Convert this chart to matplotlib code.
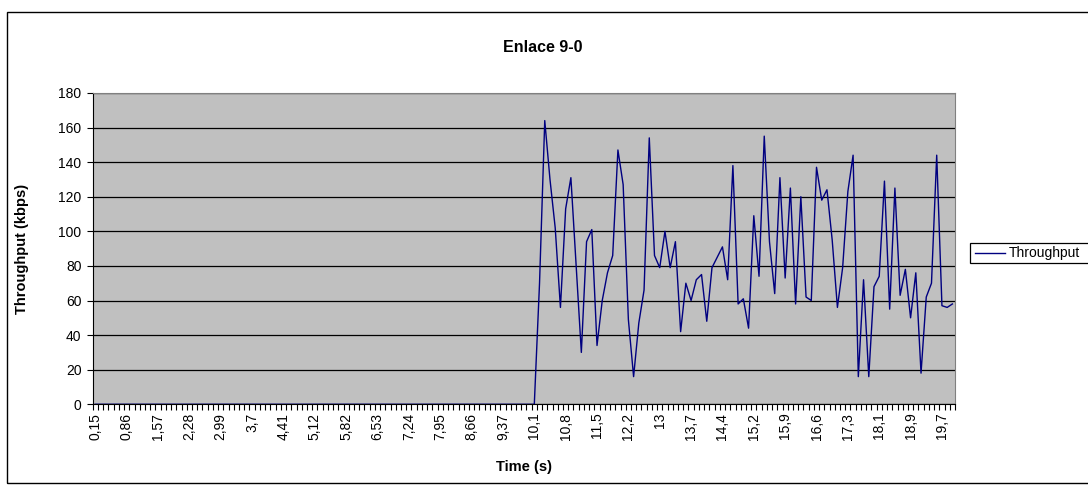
import matplotlib
matplotlib.use("Agg")
import matplotlib.pyplot as plt
from matplotlib.patches import Rectangle
from matplotlib.lines import Line2D

plt.rcParams["font.family"] = ["Liberation Sans", "DejaVu Sans"]

# category labels shown on the axis (every 6th sample)
TIME_LABELS = ["0,15", "0,86", "1,57", "2,28", "2,99", "3,7", "4,41", "5,12",
               "5,82", "6,53", "7,24", "7,95", "8,66", "9,37", "10,1", "10,8",
               "11,5", "12,2", "13", "13,7", "14,4", "15,2", "15,9", "16,6",
               "17,3", "18,1", "18,9", "19,7"]
LABEL_EVERY = 6
N_SAMPLES = 165

# throughput (kbps): silent until ~10.1 s, then the flow starts
IDLE = [0] * 84
ACTIVE = [0, 70, 164, 130, 102, 56, 113, 131, 80, 30,
          94, 101, 34, 60, 76, 86, 147, 127, 49, 16,
          47, 66, 154, 86, 79, 100, 79, 94, 42, 70,
          60, 72, 75, 48, 79, 85, 91, 72, 138, 58,
          61, 44, 109, 74, 155, 94, 64, 131, 73, 125,
          58, 120, 62, 60, 137, 118, 124, 95, 56, 79,
          123, 144, 16, 72, 16, 68, 74, 129, 55, 125,
          63, 78, 50, 76, 18, 62, 70, 144, 57, 56, 58]
throughput = IDLE + ACTIVE
x = list(range(len(throughput)))

W, H = 1088, 487
fig = plt.figure(figsize=(W / 100, H / 100), dpi=100)

# chart border
fig.patches.append(Rectangle((7 / W, 4 / H), 1.2, (H - 16) / H,
                             transform=fig.transFigure, fill=False,
                             edgecolor="black", linewidth=1.0))

ax_h = 311.4
ax_w = 862.3
ax = fig.add_axes([92.7 / W, (H - 404.3) / H, ax_w / W, ax_h / H])
ax.set_facecolor("#C0C0C0")

ax.plot(x, throughput, color="#000080", linewidth=1.0, zorder=3)

ax.set_xlim(-0.5, N_SAMPLES - 0.5)
ax.set_ylim(0, 180)
ax.set_yticks(range(0, 181, 20))
ax.yaxis.grid(True, color="black", linewidth=0.9)
ax.set_axisbelow(True)

ax.set_xticks(range(0, LABEL_EVERY * len(TIME_LABELS), LABEL_EVERY))
ax.set_xticklabels(TIME_LABELS, rotation=90, fontsize=10)
ax.set_xticks([i - 0.5 for i in range(N_SAMPLES + 1)], minor=True)
ax.tick_params(axis="x", which="major", length=0, pad=6)
ax.tick_params(axis="x", which="minor", length=4, width=0.8, direction="out")
ax.tick_params(axis="y", length=4, width=0.8, labelsize=10, direction="out", pad=4)

for side in ("top", "right"):
    ax.spines[side].set_color("#808080")
for side in ("left", "bottom"):
    ax.spines[side].set_color("black")

ax.set_xlabel("Time (s)", fontsize=10.5, fontweight="bold", va="center")
ax.xaxis.set_label_coords(0.5, (404.3 - 467) / ax_h)
ax.set_ylabel("Throughput (kbps)", fontsize=10.5, fontweight="bold", va="center")
ax.yaxis.set_label_coords((22 - 92.7) / ax_w, 0.5)

fig.text(543 / W, 1 - 47 / H, "Enlace 9-0", ha="center", va="center",
         fontsize=11.5, fontweight="bold")

# legend box, partly cut by the right edge as in the original
ly = 1 - 253 / H
fig.patches.append(Rectangle((970 / W, 1 - 263 / H), 0.2, 20 / H,
                             transform=fig.transFigure, facecolor="white",
                             edgecolor="black", linewidth=0.9))
fig.lines.append(Line2D([975 / W, 1005 / W], [ly, ly], transform=fig.transFigure,
                        color="#000080", linewidth=1.0))
fig.text(1009 / W, ly, "Throughput", ha="left", va="center", fontsize=10)

fig.savefig("out.png", dpi=100)
